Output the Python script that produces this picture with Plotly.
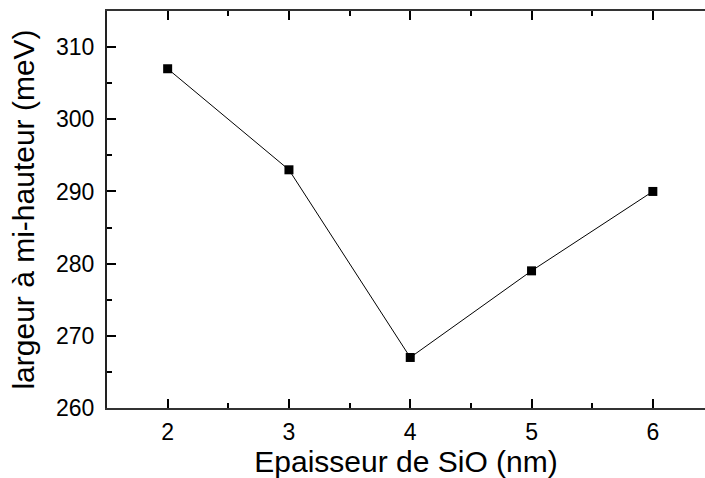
import plotly.graph_objects as go

thickness_nm = [2, 3, 4, 5, 6]
fwhm_mev = [307, 293, 267, 279, 290]
x_tickvals = [2, 3, 4, 5, 6]
y_tickvals = [260, 270, 280, 290, 300, 310]

font = "Liberation Sans"

fig = go.Figure()
fig.add_trace(go.Scatter(
    x=thickness_nm, y=fwhm_mev, mode="lines+markers",
    line=dict(color="black", width=1),
    marker=dict(symbol="square", size=9, color="black"),
    showlegend=False, hoverinfo="skip"))
fig.add_trace(go.Scatter(x=[None], y=[None], xaxis="x2", showlegend=False, hoverinfo="skip"))

xr = [1.5, 6.43]
common_x = dict(range=xr, showgrid=False, zeroline=False, showline=True, linecolor="#333",
                linewidth=2, ticks="inside", tickcolor="black", tickwidth=2, ticklen=9,
                automargin=False,
                minor=dict(ticks="inside", ticklen=5, tickwidth=2, tickcolor="black", dtick=0.5))
fig.update_layout(
    width=705, height=478,
    margin=dict(l=107, r=0, t=11, b=70, autoexpand=False),
    paper_bgcolor="white", plot_bgcolor="white",
    font=dict(family=font, color="black"),
    xaxis=dict(**common_x, tickvals=x_tickvals, tickfont=dict(size=23), ticklabelstandoff=2,
               title=dict(text="Epaisseur de SiO (nm)", font=dict(size=30), standoff=7)),
    xaxis2=dict(**common_x, overlaying="x", side="top", anchor="y", tickvals=x_tickvals,
                showticklabels=False),
    yaxis=dict(range=[260, 315], showgrid=False, zeroline=False, showline=True, linecolor="#222",
               linewidth=2, ticks="inside", tickcolor="black", tickwidth=2, ticklen=9,
               automargin=False, ticklabelstandoff=6,
               tickvals=y_tickvals, tickfont=dict(size=23),
               minor=dict(ticks="inside", ticklen=5, tickwidth=2, tickcolor="black", dtick=5),
               title=dict(text="largeur à mi-hauteur (meV)", font=dict(size=30), standoff=13)),
)
fig.write_html("out.html", config={"displayModeBar": False},
               post_script="document.body.style.margin='0';document.body.style.overflow='hidden';")
